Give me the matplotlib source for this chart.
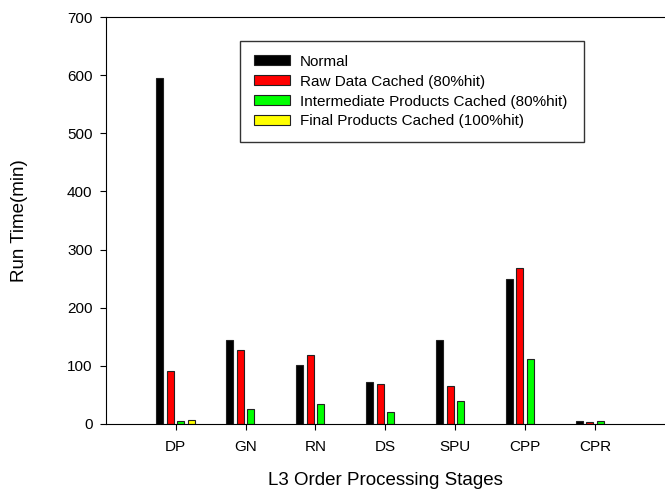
import matplotlib
matplotlib.use("Agg")
import matplotlib.pyplot as plt
import numpy as np

plt.rcParams['font.family'] = ['Liberation Sans', 'DejaVu Sans']

stages = ["DP", "GN", "RN", "DS", "SPU", "CPP", "CPR"]
normal = [595, 145, 102, 73, 145, 250, 5]
raw_cached = [92, 127, 119, 69, 65, 269, 3]
inter_cached = [5, 25, 35, 20, 39, 111, 5]
final_cached = [7, np.nan, np.nan, np.nan, np.nan, np.nan, np.nan]

series = [
    (normal, "Normal", "black"),
    (raw_cached, "Raw Data Cached (80%hit)", "#ff0000"),
    (inter_cached, "Intermediate Products Cached (80%hit)", "#00ff00"),
    (final_cached, "Final Products Cached (100%hit)", "#ffff00"),
]

fig = plt.figure(figsize=(6.65, 4.9), dpi=100)
ax = fig.add_axes([0.159, 0.1347, 0.841, 0.8306])

x = np.arange(len(stages))
w = 0.1
offsets = [-0.225, -0.075, 0.075, 0.225]
for (vals, label, color), off in zip(series, offsets):
    ax.bar(x + off, vals, width=w, color=color, edgecolor="#222222",
           linewidth=0.8, label=label)

ax.set_xlim(-1, 7)
ax.set_ylim(0, 700)
ax.set_xticks(x)
ax.set_xticklabels(stages, fontsize=11)
ax.set_yticks(np.arange(0, 701, 100))
ax.tick_params(axis='y', labelsize=11, direction='out', length=4.5, pad=5)
ax.tick_params(axis='x', direction='out', length=4.5, pad=7)
ax.spines['right'].set_visible(False)

ax.set_xlabel("L3 Order Processing Stages", fontsize=13.5, labelpad=13)
ax.set_ylabel("Run Time(min)", fontsize=13.5, labelpad=28)

leg = fig.legend(loc="upper left",
                 bbox_to_anchor=(240 / 665, 1 - 141 / 490, 344 / 665, 100 / 490),
                 mode="expand", fontsize=11, frameon=True, fancybox=False,
                 borderaxespad=0, handlelength=2.35, handleheight=0.65,
                 handletextpad=0.65, labelspacing=0.385, borderpad=0.9)
leg.get_frame().set_edgecolor("black")
leg.get_frame().set_linewidth(1.0)

fig.savefig("out.png", dpi=100)
